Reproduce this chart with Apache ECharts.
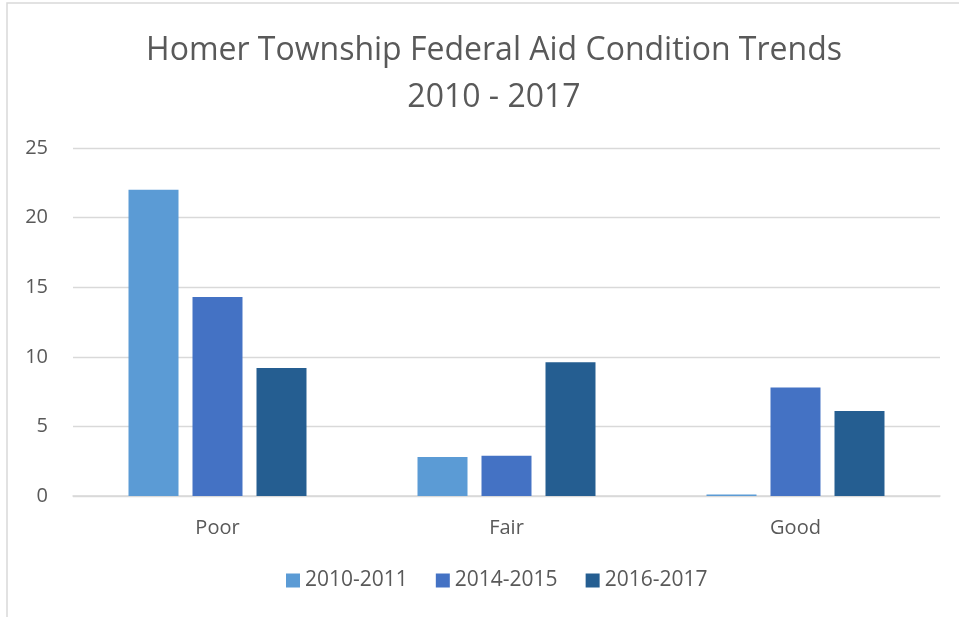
<!DOCTYPE html>
<html>
<head>
<meta charset="utf-8">
<script src="https://cdn.jsdelivr.net/npm/echarts@6/dist/echarts.min.js"></script>
<style>
html, body { margin: 0; padding: 0; background: #fff; }
#main { width: 959px; height: 617px; }
</style>
</head>
<body>
<div id="main"></div>
<script>
var categories = ['Poor', 'Fair', 'Good'];
var seriesNames = ['2010-2011', '2014-2015', '2016-2017'];
var values2010 = [22.0, 2.8, 0.1];
var values2014 = [14.3, 2.9, 7.8];
var values2016 = [9.2, 9.6, 6.1];
var colors = ['#5b9bd5', '#4472c4', '#255e91'];

var myChart = echarts.init(document.getElementById('main'));

var font = 'Open Sans';

var option = {
    color: colors,
    title: {
        text: 'Homer Township Federal Aid Condition Trends\n2010 - 2017',
        left: 489,
        top: 22,
        textAlign: 'center',
        textStyle: {
            fontFamily: font,
            fontWeight: 'normal',
            fontSize: 32,
            lineHeight: 47,
            color: '#595959'
        }
    },
    legend: {
        bottom: 21,
        left: 281,
        itemWidth: 14,
        itemHeight: 14,
        itemGap: 28,
        icon: 'rect',
        textStyle: { fontFamily: font, fontSize: 21, color: '#595959' },
        data: seriesNames
    },
    grid: {
        left: 73,
        right: 19,
        top: 148,
        bottom: 121,
        containLabel: false
    },
    xAxis: {
        type: 'category',
        data: categories,
        axisLine: { lineStyle: { color: '#d9d9d9', width: 1.5 } },
        axisTick: { show: false },
        axisLabel: { fontFamily: font, fontSize: 20, color: '#595959', margin: 22 }
    },
    yAxis: {
        type: 'value',
        min: 0,
        max: 25,
        interval: 5,
        axisLine: { show: false },
        axisTick: { show: false },
        axisLabel: { fontFamily: font, fontSize: 20, color: '#595959', margin: 25 },
        splitLine: { lineStyle: { color: '#d9d9d9', width: 1.3 } }
    },
    series: [
        { name: seriesNames[0], type: 'bar', data: values2010, barWidth: '17.3%', barGap: '28%' },
        { name: seriesNames[1], type: 'bar', data: values2014, barWidth: '17.3%', barGap: '28%' },
        { name: seriesNames[2], type: 'bar', data: values2016, barWidth: '17.3%', barGap: '28%' }
    ],
    graphic: [
        {
            type: 'polyline',
            shape: { points: [[7, 617], [7, 3], [959, 3]] },
            style: { stroke: '#d9d9d9', fill: null, lineWidth: 1.5 },
            silent: true
        }
    ]
};

myChart.setOption(option);
</script>
</body>
</html>
